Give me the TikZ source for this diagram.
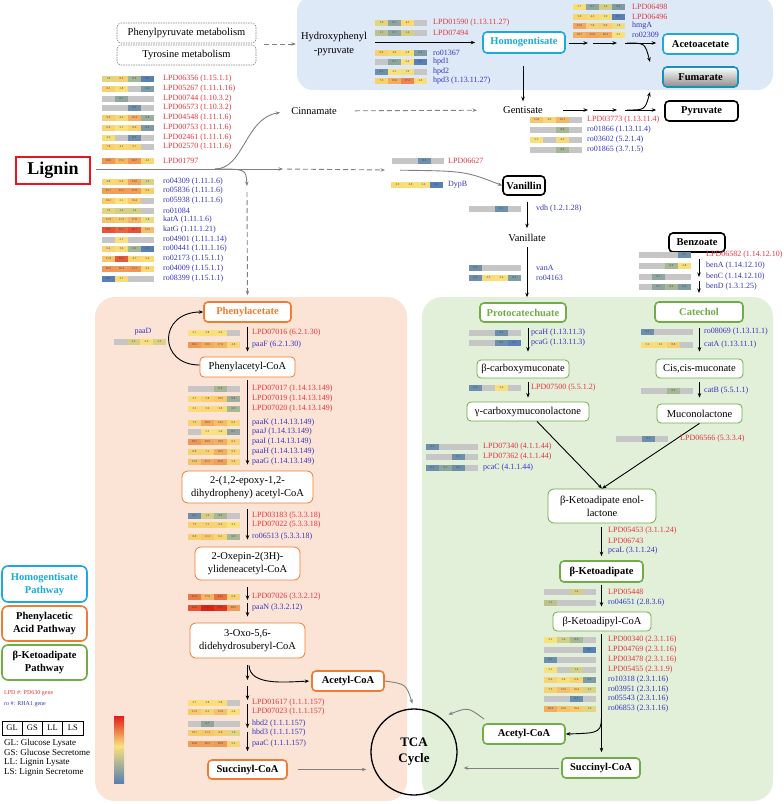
\documentclass[tikz,border=0pt]{standalone}
\usepackage{fontspec}
\setmainfont{Liberation Serif}
\usetikzlibrary{arrows.meta,calc}

\definecolor{lred}{RGB}{232,20,30}
\definecolor{lpdred}{RGB}{228,52,62}
\definecolor{roblue}{RGB}{52,52,190}
\definecolor{hcyan}{RGB}{28,170,222}
\definecolor{horange}{RGB}{237,125,49}
\definecolor{hgreen}{RGB}{112,173,71}
\definecolor{bgblue}{RGB}{221,233,246}
\definecolor{bgorange}{RGB}{251,228,213}
\definecolor{bggreen}{RGB}{226,239,217}
% heat map scale
\definecolor{hs0}{RGB}{88,128,180}
\definecolor{hs1}{RGB}{165,182,150}
\definecolor{hs2}{RGB}{249,226,124}
\definecolor{hs3}{RGB}{248,206,110}
\definecolor{hs4}{RGB}{240,150,85}
\definecolor{hs5}{RGB}{226,30,25}
\definecolor{hgray}{RGB}{198,198,198}

\newcommand\hcolor[1]{%
  \pgfmathsetmacro\hl{max(-0.4,min(2,ln(#1)/ln(10)))}%
  \ifdim\hl pt<-0.05pt
    \pgfmathsetmacro\hp{max(0,min(100,(\hl+0.4)*285.7))}\colorlet{hc}{hs1!\hp!hs0}%
  \else\ifdim\hl pt<0.3pt
    \pgfmathsetmacro\hp{max(0,min(100,(\hl+0.05)*285.7))}\colorlet{hc}{hs2!\hp!hs1}%
  \else\ifdim\hl pt<1pt
    \pgfmathsetmacro\hp{max(0,min(100,(\hl-0.3)*142.86))}\colorlet{hc}{hs3!\hp!hs2}%
  \else\ifdim\hl pt<1.5pt
    \pgfmathsetmacro\hp{max(0,min(100,(\hl-1)*200))}\colorlet{hc}{hs4!\hp!hs3}%
  \else
    \pgfmathsetmacro\hp{max(0,min(100,(\hl-1.5)*200))}\colorlet{hc}{hs5!\hp!hs4}%
  \fi\fi\fi\fi}

% one row of four cells: GL GS LL LS (0 = no value)
\newcommand\hrow[3]{%
  \edef\hlist{#3}%
  \foreach \hv [count=\hi from 0] in \hlist {%
    \ifdim\hv pt=0pt
      \fill[hgray] ({#1+13*\hi},{#2-3}) rectangle ++(13,6);
    \else
      \hcolor{\hv}%
      \fill[hc] ({#1+13*\hi},{#2-3}) rectangle ++(13,6);
      \node[cellnum] (hv\hi) at ({#1+13*\hi+6.5},#2) {\hv};
    \fi}}

\begin{document}
\begin{tikzpicture}[x=1pt,y=-1pt,>={Stealth[length=4.5pt,width=3.5pt]},
  met/.style={font=\fontsize{10.5}{13}\selectfont,align=center,inner sep=1pt},
  box/.style={met,draw=#1,fill=white,rounded corners=4pt,line width=0.8pt},
  bbox/.style={box=#1,line width=1.6pt,font=\fontsize{10.5}{13}\selectfont\bfseries},
  dbox/.style={met,draw=gray,rounded corners=4pt,dash pattern=on 1.5pt off 1pt,line width=0.6pt},
  flow/.style={->,line width=0.9pt},
  gflow/.style={->,gray,line width=0.9pt},
  gdash/.style={gflow,dash pattern=on 5pt off 3pt},
  cellnum/.style={font=\fontsize{3}{3}\selectfont,inner sep=0pt,text=black!75},
  lpd/.style={anchor=west,inner sep=0pt,text=lpdred,font=\fontsize{8}{9}\selectfont},
  ro/.style={lpd,text=roblue}]
  \useasboundingbox (0,0) rectangle (784,804);
  % pathway backgrounds
  \fill[bgblue,rounded corners=16pt] (297,-4) rectangle (773,90);
  \fill[bgorange,rounded corners=20pt] (95,297) rectangle (407,801);
  \fill[bggreen,rounded corners=20pt] (422,297) rectangle (773,801);

  % upstream metabolism
  \node[dbox,minimum width=139,minimum height=20] (phpy) at (186.5,33) {Phenylpyruvate metabolism};
  \node[dbox,minimum width=139,minimum height=20] (tyro) at (186.5,55) {Tyrosine metabolism};
  \node[met,font=\fontsize{10.5}{14}\selectfont] (hpp) at (334,44) {Hydroxyphenyl\\-pyruvate};
  \coordinate (mj) at ($(phpy.south east)!0.5!(tyro.north east)$);
  \draw[gdash,shorten <=8pt,shorten >=4pt] (mj) -- (mj -| hpp.west);

  % homogentisate pathway
  \node[bbox=hcyan,text=hcyan,minimum width=82,minimum height=21] (hga) at (524,42.5) {Homogentisate};
  \node[bbox=hcyan,minimum width=75,minimum height=20] (aca) at (700.5,44) {Acetoacetate};
  \node[bbox=hcyan!85!black,top color=white,bottom color=black!45,minimum width=75,minimum height=20] (fum) at (700.5,77) {Fumarate};
  \node[bbox=black,minimum width=73,minimum height=20] (pyr) at (701.5,111) {Pyruvate};
  \node[met] (gen) at (523,110) {Gentisate};
  \node[met] (cin) at (314,111) {Cinnamate};
  \draw[flow,shorten <=7pt,shorten >=7pt] (hpp.east |- hga) -- (hga.west);
  \draw[flow,shorten <=12pt,shorten >=4pt] (gen.north |- hga.south) -- (gen.north);
  \coordinate (hx1) at (590,43);
  \coordinate (hx2) at (621,43);
  \coordinate (fumt) at (650,62);
  \draw[flow,shorten <=3pt,shorten >=2pt] (hga.east |- hx1) -- (hx1);
  \draw[flow,shorten <=3pt,shorten >=4pt] (hx1) -- (hx2);
  \draw[flow,shorten <=4pt,shorten >=6pt] (hx2) -- (aca.west |- hx2);
  \draw[flow] ($(hx2)+(6,0)$) .. controls (645,43) .. (fumt);
  \coordinate (gx1) at (590,110);
  \coordinate (gx2) at (621,110);
  \coordinate (fumb) at (650,92);
  \draw[flow,shorten <=19pt,shorten >=2pt] (gen.east) -- (gx1);
  \draw[flow,shorten <=3pt,shorten >=4pt] (gx1) -- (gx2);
  \draw[flow,shorten <=4pt,shorten >=8pt] (gx2) -- (pyr.west |- gx2);
  \draw[flow] ($(gx2)+(6,0)$) .. controls (645,110) .. (fumb);
  \draw[gdash,shorten <=17pt,shorten >=25pt] (cin) -- (gen);

  % lignin and its branches
  \node[draw=lred,line width=1.6pt,minimum width=74,minimum height=27,inner sep=0pt,font=\fontsize{18}{20}\selectfont\bfseries] (lig) at (53,170.5) {Lignin};
  \node[bbox=black,minimum width=42,minimum height=19] (van) at (524,185.5) {Vanillin};
  \node[met] (vnt) at (527,238) {Vanillate};
  \node[bbox=horange,text=horange,minimum width=87,minimum height=20] (pa) at (247.5,312) {Phenylacetate};
  \coordinate (lb) at (215,169);
  \coordinate (lj) at (283,169);
  \coordinate (lk) at (385,170);
  \coordinate (ld) at (247,186);
  \draw[gflow,shorten <=5pt] (lig.east |- lj) -- (lj);
  \draw[gdash,shorten <=4pt] (lj) -- (lk);
  \draw[gflow,shorten <=15pt] (lk) .. controls (465,171) .. (van.west);
  \draw[gflow,shorten >=10pt] (lb) .. controls (244,169) and (245,118) .. (cin.west);
  \draw[gflow] (lb) .. controls (246,169) .. (ld);
  \draw[gdash,shorten <=6pt,shorten >=6pt] (ld) -- (pa.north);
  \draw[flow,shorten <=6pt,shorten >=5pt] (van.south -| vnt) -- (vnt.north);

  % beta-ketoadipate pathway
  \node[bbox=hgreen,text=hgreen,minimum width=86,minimum height=19] (pca) at (523,312.5) {Protocatechuate};
  \node[bbox=black,minimum width=56,minimum height=19] (bzo) at (697,242.5) {Benzoate};
  \node[bbox=hgreen,text=hgreen,minimum width=88,minimum height=20] (cat) at (699,312) {Catechol};
  \node[box=hgreen,minimum width=92,minimum height=18] (bcm) at (523,369) {β-carboxymuconate};
  \node[box=hgreen,minimum width=122,minimum height=19] (gcl) at (528,411.5) {γ-carboxymuconolactone};
  \node[box=hgreen,minimum width=87,minimum height=19] (ccm) at (699.5,368.5) {Cis,cis-muconate};
  \node[box=hgreen,minimum width=85,minimum height=19] (mcl) at (699.5,413.5) {Muconolactone};
  \node[box=hgreen,minimum width=108,minimum height=34,rounded corners=6pt] (enol) at (602,506) {β-Ketoadipate enol-\\lactone};
  \node[bbox=hgreen,minimum width=83,minimum height=21] (bka) at (601.5,571.5) {β-Ketoadipate};
  \node[box=hgreen,minimum width=98,minimum height=19] (bkc) at (602,621.5) {β-Ketoadipyl-CoA};
  \node[bbox=hgreen,minimum width=82,minimum height=20] (gacoa) at (524,734) {Acetyl-CoA};
  \node[bbox=hgreen,minimum width=78,minimum height=20] (gsuc) at (601,768) {Succinyl-CoA};
  \draw[flow,shorten <=4pt,shorten >=5pt] (vnt.south) -- (vnt.south |- pca.north);
  \coordinate (bz1) at (699,277);
  \coordinate (bz2) at (699,293);
  \draw[flow,shorten <=6pt] (bzo.south -| bz1) -- (bz1);
  \draw[flow,shorten <=4pt] (bz1) -- (bz2);
  \draw[flow,shorten <=5pt,shorten >=8pt] (gcl.north |- pca.south) -- (gcl.north |- bcm.north);
  \draw[flow,shorten <=4pt,shorten >=4pt] (gcl.north |- bcm.south) -- (gcl.north);
  \draw[flow,shorten <=5pt,shorten >=7pt] (ccm.north |- cat.south) -- (ccm.north);
  \draw[flow,shorten <=4pt,shorten >=6pt] (ccm.south) -- (mcl.north);
  \draw[flow] ($(gcl.south)+(9,0)$) -- (enol.north);
  \draw[flow] (mcl.south) -- (enol.north);
  \draw[flow,shorten <=4pt,shorten >=4pt] (enol.south -| bka) -- (bka.north);
  \draw[flow,shorten <=2pt,shorten >=5pt] (bka.south) -- (bka.south |- bkc.north);
  \draw[flow,shorten <=3pt,shorten >=5pt] (bka.south |- bkc.south) -- (bka.south |- gsuc.north);
  \coordinate (kc) at (601.5,712);
  \draw[flow] (kc) .. controls (601.5,733) .. (gacoa.east);

  % phenylacetic acid pathway
  \node[box=horange,minimum width=95,minimum height=20] (pacoa) at (247.5,367) {Phenylacetyl-CoA};
  \node[box=horange,minimum width=131,minimum height=32,rounded corners=6pt] (epx) at (247.5,487) {2-(1,2-epoxy-1,2-\\dihydropheny) acetyl-CoA};
  \node[box=horange,minimum width=105,minimum height=33,rounded corners=6pt] (oxp) at (247.5,563.5) {2-Oxepin-2(3H)-\\ylideneacetyl-CoA};
  \node[box=horange,minimum width=115,minimum height=35,rounded corners=6pt] (oxo) at (247.5,640.5) {3-Oxo-5,6-\\didehydrosuberyl-CoA};
  \node[bbox=horange,minimum width=72,minimum height=20] (oacoa) at (348,681) {Acetyl-CoA};
  \node[bbox=horange,minimum width=79,minimum height=19] (osuc) at (247.5,769.5) {Succinyl-CoA};
  \draw[flow,shorten <=4pt,shorten >=5pt] (pa.south) -- (pacoa.north);
  \draw[flow] ($(pacoa.west)+(0,-2)$) .. controls (158,365) and (158,312) .. (pa.west);
  \draw[flow,shorten <=3pt,shorten >=6pt] (pacoa.south) -- (epx.north);
  \draw[flow,shorten <=6pt,shorten >=7pt] (epx.south) -- (oxp.north);
  \coordinate (ox1) at (247.5,600);
  \draw[flow,shorten <=7pt] (oxp.south) -- (ox1);
  \draw[flow,shorten <=3pt,shorten >=6pt] (ox1) -- (oxo.north);
  \coordinate (oc1) at (247.5,680);
  \coordinate (oc2) at (247.5,700);
  \coordinate (oc3) at (247.5,728);
  \draw[flow,shorten <=7pt] (oxo.south) -- (oc1);
  \draw[flow,shorten >=2pt] ($(oxo.south)+(1.5,7)$) .. controls (250,686) and (285,682) .. (oacoa.west);
  \draw[flow,shorten <=6pt] (oc1) -- (oc2);
  \draw[flow,shorten <=4pt] (oc2) -- (oc3);
  \draw[flow,shorten <=4pt,shorten >=8pt] (oc3) -- (osuc.north);

  % TCA cycle
  \node[draw,circle,line width=1.3pt,minimum size=86,align=center,font=\fontsize{13}{16}\selectfont\bfseries] (tca) at (414,752) {TCA\\Cycle};
  \draw[gflow,shorten >=5pt] (oacoa.east) .. controls (406,684) .. (tca.north);
  \draw[gflow,shorten <=10pt,shorten >=4pt] (osuc.east) -- (tca.west |- osuc.east);
  \draw[gflow,shorten <=2pt,shorten >=6pt] (gsuc.west) -- (tca.east |- gsuc.west);
  \draw[gflow,shorten >=8pt] ($(gacoa.north west)+(2,-4)$) .. controls (468,707) .. (tca.52);

  % enzyme heat maps: lignin
  \foreach \y/\vals/\st/\lab [count=\i] in {
    79/{1.6,8.5,0.9,0.3}/lpd/LPD06356 (1.15.1.1),
    89/{8.5,2.8,0,0.6}/lpd/LPD05267 (1.11.1.16),
    99/{0,0.7,0,0}/lpd/LPD00744 (1.10.3.2),
    108/{0,0,0.5,0}/lpd/LPD06573 (1.10.3.2),
    118/{9.6,4.2,19.4,0.8}/lpd/LPD04548 (1.11.1.6),
    128/{6.4,2.1,8.0,0.6}/lpd/LPD00753 (1.11.1.6),
    138/{3.2,0,0.5,0}/lpd/LPD02461 (1.11.1.6),
    147/{7.0,4.2,5.7,0}/lpd/LPD02570 (1.11.1.6),
    161/{30.0,15.5,30.7,4.3}/lpd/LPD01797,
    182/{4.8,6.4,23.6,1.5}/ro/ro04309 (1.11.1.6),
    191/{25.7,25.5,27.0,9.3}/ro/ro05836 (1.11.1.6),
    201/{10.2,2.1,10.4,0}/ro/ro05938 (1.11.1.6),
    211/{1.6,1.4,1.4,0}/ro/ro01084,
    220/{12.9,11.3,17.0,1.8}/ro/katA (1.11.1.6),
    230/{59.5,50.1,60.1,13.6}/ro/katG (1.11.1.21),
    240/{0,2.1,0,0}/ro/ro04901 (1.11.1.14),
    249/{6.4,3.6,0.9,0.3}/ro/ro00441 (1.11.1.16),
    259/{11.8,56.6,4.7,3.4}/ro/ro02173 (1.15.1.1),
    269/{30.5,28.4,31.2,4.3}/ro/ro04009 (1.15.1.1),
    279/{0.1,3.7,0,0}/ro/ro08399 (1.15.1.1)}{
    \hrow{102}{\y}{\vals}
    \node[\st] (lg\i) at (163,\y) {\lab};}
  \hrow{392}{161}{0,0,0.5,0}
  \node[lpd] (lgp) at (448,161) {LPD06627};
  \hrow{391}{185}{3.2,2.8,2.4,0.3}
  \node[ro] (lgd) at (448,185) {DypB};

  % heat maps: homogentisate pathway
  \foreach \y/\vals/\st/\lab [count=\i] in {
    23/{1.6,0.7,4.3,0}/lpd/LPD01590 (1.13.11.27),
    33/{1.1,0.7,1.4,0}/lpd/LPD07494,
    53/{8.6,4.9,2.8,0.6}/ro/ro01367,
    62/{0,0.7,2.4,0.3}/ro/hpd1,
    72/{0.5,2.1,1.9,0}/ro/hpd2,
    81/{7.5,19.8,37.4,2.8}/ro/hpd3 (1.13.11.27)}{
    \hrow{375}{\y}{\vals}
    \node[\st] (hp\i) at (433,\y) {\lab};}
  \foreach \y/\vals/\st/\lab [count=\i] in {
    7/{2.7,0.7,1.4,0.6}/lpd/LPD06498,
    17/{5.9,4.2,1.9,0.2}/lpd/LPD06496,
    26/{22.0,7.8,9.9,1.8}/ro/hmgA,
    35/{18.7,22.9,20.3,2.2}/ro/ro02309}{
    \hrow{573}{\y}{\vals}
    \node[\st] (hm\i) at (632,\y) {\lab};}
  \foreach \y/\vals/\st/\lab [count=\i] in {
    120/{11.8,4.9,16.1,0}/lpd/LPD03773 (1.13.11.4),
    130/{0,0,0.9,0}/ro/ro01866 (1.13.11.4),
    140/{2.7,0,4.3,0}/ro/ro03602 (5.2.1.4),
    150/{0,0,0.9,0}/ro/ro01865 (3.7.1.5)}{
    \hrow{530}{\y}{\vals}
    \node[\st] (gn\i) at (587,\y) {\lab};}

  % heat maps: vanillin, benzoate
  \foreach \y/\vals/\st/\lab [count=\i] in {
    209/{0,0,0.5,0}/ro/vdh (1.2.1.28),
    268/{0.5,0,0,0}/ro/vanA,
    278/{0.5,3.5,2.4,0.6}/ro/ro04163}{
    \hrow{469}{\y}{\vals}
    \node[\st] (vn\i) at (536,\y) {\lab};}
  \foreach \y/\vals/\st/\lab [count=\i] in {
    255/{0,0,0,0.5}/lpd/LPD06582 (1.14.12.10),
    266/{0,0,0.9,2.8}/ro/benA (1.14.12.10),
    277/{0,0.7,0,0}/ro/benC (1.14.12.10),
    287/{0,0.7,0.9,0.6}/ro/benD (1.3.1.25)}{
    \hrow{639}{\y}{\vals}
    \node[\st] (bz\i) at (706,\y) {\lab};}

  % heat maps: phenylacetic acid pathway
  \node[ro,anchor=center] (paad) at (143,332) {paaD};
  \hrow{114}{342}{0,1.4,2.4,1.5}
  \foreach \y/\vals/\st/\lab [count=\i] in {
    333/{2.1,2.8,2.4,0}/lpd/LPD07016 (6.2.1.30),
    345/{30.2,19.9,17.0,4.8}/ro/paaF (6.2.1.30),
    389/{0,0,0.9,0}/lpd/LPD07017 (1.14.13.149),
    399/{3.7,7.8,10.9,0.8}/lpd/LPD07019 (1.14.13.149),
    409/{3.2,3.9,3.8,0.9}/lpd/LPD07020 (1.14.13.149),
    423/{7.5,20.9,14.2,6.2}/ro/paaK (1.14.13.149),
    432/{0,2.1,2.4,0.7}/ro/paaJ (1.14.13.149),
    442/{30.7,20.9,18.9,6.5}/ro/paaI (1.14.13.149),
    452/{8.8,7.1,18.5,5.5}/ro/paaH (1.14.13.149),
    462/{12.9,21.3,26.0,5.8}/ro/paaG (1.14.13.149),
    516/{0.5,1.4,0.9,0}/lpd/LPD03183 (5.3.3.18),
    525/{7.5,7.1,6.6,2.2}/lpd/LPD07022 (5.3.3.18),
    537/{8.8,11.3,6.2,0.9}/ro/ro06513 (5.3.3.18),
    597/{41.8,17.0,44.6,6.0}/lpd/LPD07026 (3.3.2.12),
    608/{60.0,104.7,83.2,28.5}/ro/paaN (3.3.2.12),
    703/{2.7,2.8,2.8,0}/lpd/LPD01617 (1.1.1.157),
    712/{11.2,6.3,12.8,2.4}/lpd/LPD07023 (1.1.1.157),
    724/{0,0.7,0,0}/ro/hbd2 (1.1.1.157),
    733/{10.7,11.3,9.0,1.6}/ro/hbd3 (1.1.1.157),
    744/{26.8,26.2,28.9,5.2}/ro/paaC (1.1.1.157)}{
    \hrow{188}{\y}{\vals}
    \node[\st] (pe\i) at (252,\y) {\lab};}

  % heat maps: beta-ketoadipate pathway
  \foreach \y/\vals/\st/\lab [count=\i] in {
    333/{0,0,0.5,0}/ro/pcaH (1.13.11.3),
    343/{0,0,0.5,0.2}/ro/pcaG (1.13.11.3),
    388/{0.5,0,2.4,0}/lpd/LPD07500 (5.5.1.2)}{
    \hrow{469}{\y}{\vals}
    \node[\st] (pc\i) at (531,\y) {\lab};}
  \foreach \y/\vals/\st/\lab [count=\i] in {
    332/{0.5,0,0,0}/ro/ro08069 (1.13.11.1),
    345/{3.2,3.6,8.8,0}/ro/catA (1.13.11.1),
    391/{0,0,0.9,0}/ro/catB (5.5.1.1)}{
    \hrow{641}{\y}{\vals}
    \node[\st] (ct\i) at (704,\y) {\lab};}
  \hrow{616}{439}{0,0,0.5,0}
  \node[lpd] (ct4) at (680,439) {LPD06566 (5.3.3.4)};
  \foreach \y/\vals/\st/\lab [count=\i] in {
    447/{0.5,0,0,0}/lpd/LPD07340 (4.1.1.44),
    457/{0,0,0.5,0}/lpd/LPD07362 (4.1.1.44),
    468/{0.5,0.7,0.5,0}/ro/pcaC (4.1.1.44)}{
    \hrow{426}{\y}{\vals}
    \node[\st] (pd\i) at (483,\y) {\lab};}
  \node[lpd] (el1) at (608,531) {LPD05453 (3.1.1.24)};
  \node[lpd] (el2) at (608,541) {LPD06743};
  \node[ro] (el3) at (608,551) {pcaL (3.1.1.24)};
  \foreach \y/\vals/\st/\lab [count=\i] in {
    592/{0,0,1.4,0}/lpd/LPD05448,
    603/{1.1,0,0,0}/ro/ro04651 (2.8.3.6),
    640/{2.1,1.4,0.9,0}/lpd/LPD00340 (2.3.1.16),
    650/{0,0,0,0.2}/lpd/LPD04769 (2.3.1.16),
    660/{0.5,0,0,0}/lpd/LPD03478 (2.3.1.16),
    670/{2.1,0,1.4,0}/lpd/LPD05455 (2.3.1.9),
    680/{6.4,2.8,6.6,0.6}/ro/ro10318 (2.3.1.16),
    690/{7.5,13.5,10.4,1.5}/ro/ro03951 (2.3.1.16),
    699/{0,0,0.5,0}/ro/ro05543 (2.3.1.16),
    709/{20.4,12.6,10.4,1.6}/ro/ro06853 (2.3.1.16)}{
    \hrow{544}{\y}{\vals}
    \node[\st] (ka\i) at (608,\y) {\lab};}

  % colour scale
  \shade[top color=hs5,middle color=hs4,bottom color=hs2] (114,716) rectangle (124,746);
  \shade[top color=hs2,middle color=hs1,bottom color=hs0] (114,746) rectangle (124,783);

  % legend
  \node[bbox=hcyan,text=hcyan,minimum width=85,minimum height=36,rounded corners=6pt] (legh) at (44.5,584) {Homogentisate\\Pathway};
  \node[bbox=horange,minimum width=85,minimum height=35,rounded corners=6pt] (lego) at (44.5,623.5) {Phenylacetic\\Acid Pathway};
  \node[bbox=hgreen,minimum width=85,minimum height=35,rounded corners=6pt] (legg) at (44.5,662.5) {β-Ketoadipate\\Pathway};
  \node[lpd,font=\fontsize{6}{7}\selectfont] (legl) at (4,693) {LPD \#: PD630 gene};
  \node[ro,font=\fontsize{6}{7}\selectfont] (legr) at (4,704) {ro \#: RHA1 gene};
  \foreach \t [count=\i from 0] in {GL,GS,LL,LS}
    \node[draw,line width=0.5pt,minimum width=20.25,minimum height=14,inner sep=0pt,font=\fontsize{8.5}{10}\selectfont] (tb\t) at ({12.1+20.25*\i},728) {\t};
  \foreach \t [count=\i from 0] in {GL: Glucose Lysate,GS: Glucose Secretome,LL: Lignin Lysate,LS: Lignin Secretome}
    \node[anchor=west,inner sep=0pt,font=\fontsize{9}{10}\selectfont] (lt\i) at (4,{743+9.7*\i}) {\t};
\end{tikzpicture}
\end{document}
